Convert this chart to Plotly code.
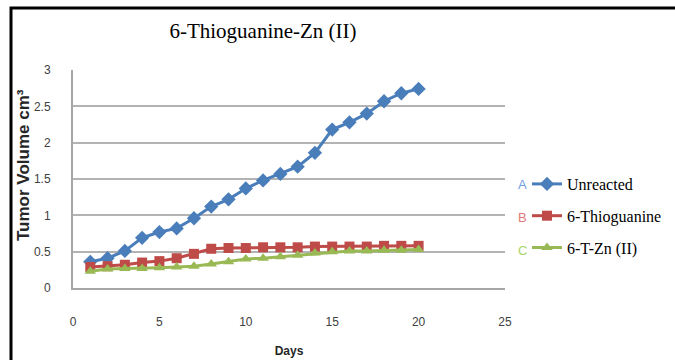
import plotly.graph_objects as go

days = list(range(1, 21))
unreacted = [0.36, 0.41, 0.51, 0.69, 0.77, 0.82, 0.96, 1.12, 1.22, 1.37,
             1.48, 1.57, 1.67, 1.86, 2.18, 2.28, 2.40, 2.57, 2.68, 2.74]
thioguanine = [0.29, 0.30, 0.32, 0.35, 0.37, 0.41, 0.47, 0.54, 0.55, 0.55,
               0.56, 0.56, 0.56, 0.57, 0.57, 0.57, 0.57, 0.58, 0.58, 0.58]
tzn = [0.23, 0.26, 0.27, 0.27, 0.28, 0.29, 0.30, 0.33, 0.36, 0.40,
       0.41, 0.43, 0.45, 0.48, 0.50, 0.51, 0.51, 0.52, 0.52, 0.53]
names = ["Unreacted", "6-Thioguanine", "6-T-Zn (II)"]
letters = ["A", "B", "C"]
colors = ["#4a7ebb", "#be4b48", "#98b954"]
letter_colors = ["#6fa0dc", "#e07a78", "#a8d468"]
symbols = ["diamond", "square", "triangle-up"]
series = [unreacted, thioguanine, tzn]

fig = go.Figure()
for i, (nm, ys) in enumerate(zip(names, series)):
    fig.add_trace(go.Scatter(
        x=days, y=ys, name=nm, mode="lines+markers",
        line=dict(color=colors[i], width=3),
        marker=dict(symbol=symbols[i], size=10 if i else 11, color=colors[i]),
        legendgroup=nm,
    ))

W, H = 675, 360
L, R, T, B = 73, 170, 70, 72
PW, PH = W - L - R, H - T - B


def px(x):
    return (x - L) / PW


def py(y):
    return (H - B - y) / PH


sans = "Liberation Sans"
fig.update_layout(
    width=W, height=H,
    margin=dict(l=L, r=R, t=T, b=B, autoexpand=False),
    paper_bgcolor="white", plot_bgcolor="white",
    showlegend=True,
    legend=dict(x=px(527), y=py(167), xanchor="left", yanchor="top",
                font=dict(family="Liberation Serif", size=16, color="black"),
                tracegroupgap=8, itemwidth=30, bgcolor="rgba(0,0,0,0)"),
    title=dict(text="6-Thioguanine-Zn (II)", x=263 / W, xanchor="center",
               y=1 - 31 / H, yanchor="middle",
               font=dict(family="Liberation Serif", size=21, color="black")),
    xaxis=dict(range=[0, 25], tickvals=[0, 5, 10, 15, 20, 25], showgrid=False,
               showline=True, linecolor="#a6a6a6", linewidth=2, zeroline=False,
               ticks="", ticklabelstandoff=22, automargin=False,
               tickfont=dict(family=sans, size=12, color="#404040"),
               title=dict(text="<b>Days</b>", standoff=18,
                          font=dict(family=sans, size=12, color="#262626"))),
    yaxis=dict(range=[0, 3], tickvals=[0, 0.5, 1, 1.5, 2, 2.5, 3], showgrid=True,
               gridcolor="#b3b3b3", gridwidth=2, automargin=False,
               showline=True, linecolor="#a6a6a6", linewidth=2, zeroline=False,
               ticks="", ticklabelstandoff=18,
               tickfont=dict(family=sans, size=12, color="#404040")),
)

fig.add_annotation(x=px(23), y=py(165), xref="paper", yref="paper",
                   text="<b>Tumor Volume cm³</b>", textangle=-90, showarrow=False,
                   xanchor="center", yanchor="middle",
                   font=dict(family=sans, size=17, color="#262626"))

for i, lt in enumerate(letters):
    fig.add_annotation(x=px(522), y=py(184 + 33 * i), xref="paper", yref="paper",
                       text=lt, showarrow=False, xanchor="center", yanchor="middle",
                       font=dict(family=sans, size=13, color=letter_colors[i]))

fig.add_shape(type="rect", xref="paper", yref="paper", x0=px(11), x1=px(W + 20),
              y0=py(H + 20), y1=py(8), line=dict(color="black", width=3),
              fillcolor="rgba(0,0,0,0)")

fig.write_html("out.html")
